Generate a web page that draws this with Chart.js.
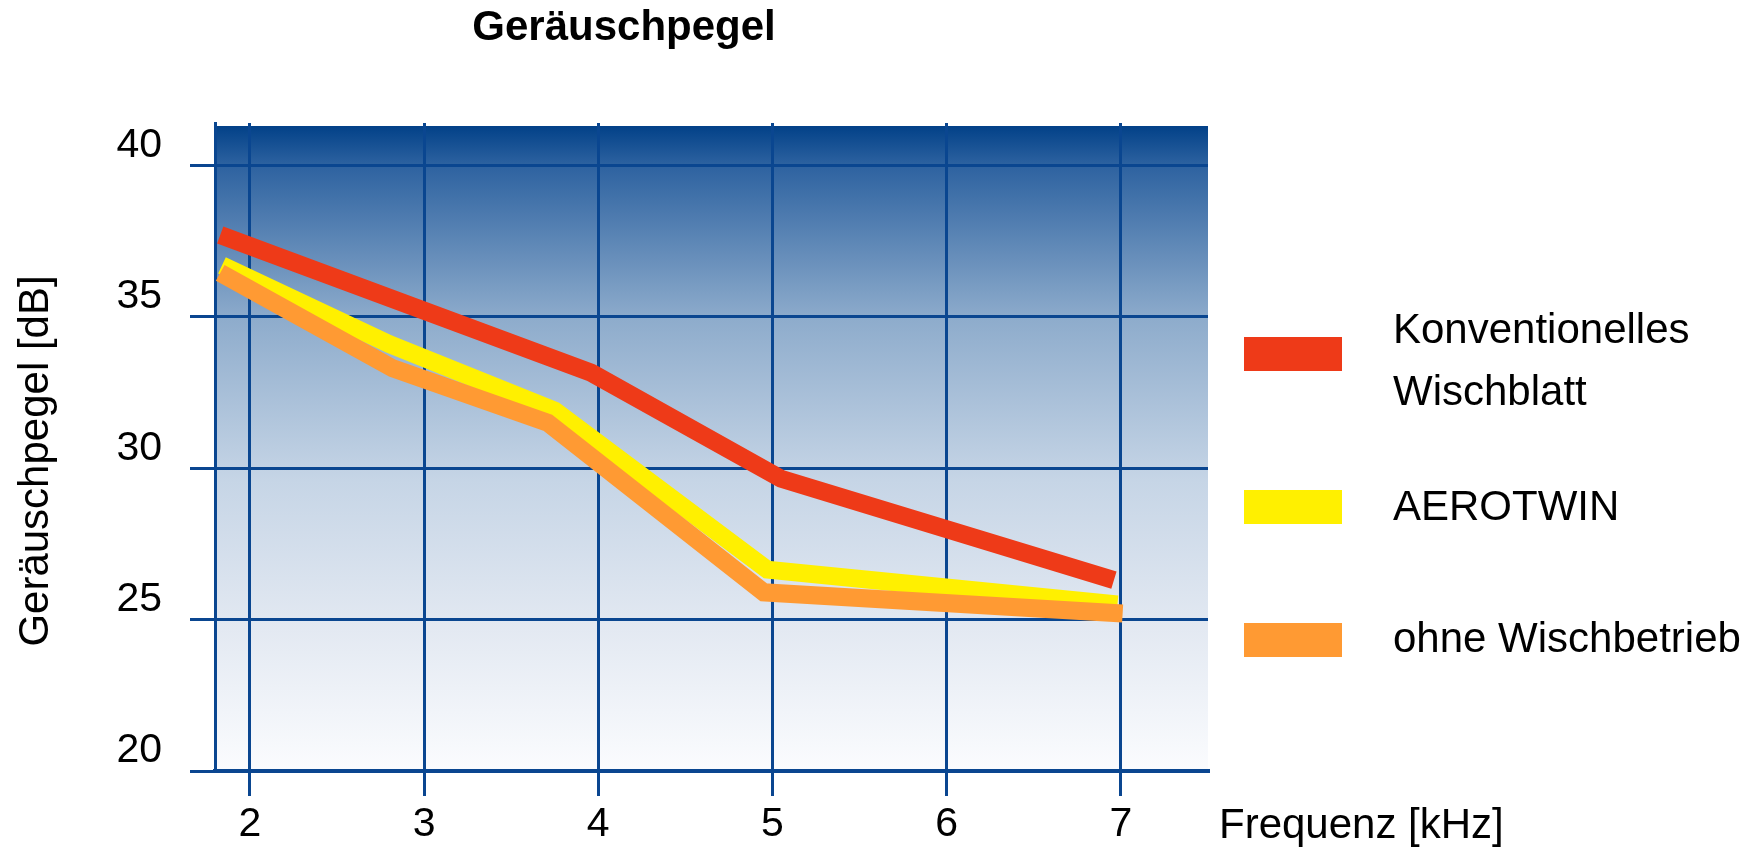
<!DOCTYPE html>
<html>
<head>
<meta charset="utf-8">
<title>Geräuschpegel</title>
<script src="https://cdn.jsdelivr.net/npm/chart.js@4.4.1/dist/chart.umd.min.js"></script>
<style>
    body { margin: 0; background: #ffffff; }
    #chartBox { width: 1758px; height: 850px; }
</style>
</head>
<body>
<div id="chartBox"><canvas id="noiseChart" width="1758" height="850"></canvas></div>
<script>
// Werte
const seriesNames = ['Konventionelles Wischblatt', 'AEROTWIN', 'ohne Wischbetrieb'];
const freqKonv = [1.83, 3.96, 5.05, 6.96];
const pegelKonv = [37.7, 33.15, 29.65, 26.3];
const freqAero = [1.84, 2.8, 3.75, 4.97, 6.98];
const pegelAero = [36.7, 34.1, 31.9, 26.65, 25.5];
const freqOhne = [1.83, 2.82, 3.71, 4.95, 7.01];
const pegelOhne = [36.45, 33.3, 31.5, 25.9, 25.2];
const xTicks = [2, 3, 4, 5, 6, 7];
const yTicks = [20, 25, 30, 35, 40];

const gridBlue = '#0a4690';
const FONT = '"Liberation Sans", Arial, sans-serif';

function toPoints(xs, ys) {
    return xs.map(function(x, i) { return { x: x, y: ys[i] }; });
}

// Hintergrund-Verlauf der Zeichenfläche
const plotBackground = {
    id: 'plotBackground',
    beforeDraw: function(chart) {
        const a = chart.chartArea;
        const c = chart.ctx;
        const top = a.top + 3;
        const g = c.createLinearGradient(0, top, 0, a.bottom);
        g.addColorStop(0, '#024188');
        g.addColorStop(0.06, '#2d62a0');
        g.addColorStop(0.3, '#8eaccc');
        g.addColorStop(0.55, '#c6d5e6');
        g.addColorStop(0.78, '#e3e9f2');
        g.addColorStop(1, '#fbfcfe');
        c.save();
        c.fillStyle = g;
        c.fillRect(a.left, top, a.right - a.left, a.bottom - top);
        c.restore();
    }
};

// Titel, Achsentitel und Legende
const extraText = {
    id: 'extraText',
    afterDraw: function(chart) {
        const c = chart.ctx;
        c.save();
        c.fillStyle = '#000000';
        c.font = 'bold 42px ' + FONT;
        c.textAlign = 'center';
        c.textBaseline = 'alphabetic';
        c.fillText('Geräuschpegel', 624, 40);

        c.font = '42px ' + FONT;
        c.textAlign = 'left';
        c.textBaseline = 'middle';
        c.fillText('Frequenz [kHz]', 1219, 826);

        c.save();
        c.translate(36, 461);
        c.rotate(-Math.PI / 2);
        c.textAlign = 'center';
        c.fillText('Geräuschpegel [dB]', 0, 0);
        c.restore();

        const sw = [337, 490, 623];
        const lines = [['Konventionelles', 'Wischblatt'], ['AEROTWIN'], ['ohne Wischbetrieb']];
        const base = [[343, 405], [520], [652]];
        c.textBaseline = 'alphabetic';
        chart.data.datasets.forEach(function(ds, i) {
            c.fillStyle = ds.borderColor;
            c.fillRect(1244, sw[i], 98, 34);
            c.fillStyle = '#000000';
            lines[i].forEach(function(t, k) {
                c.fillText(t, 1393, base[i][k]);
            });
        });
        c.restore();
    }
};

const ctx = document.getElementById('noiseChart').getContext('2d');
new Chart(ctx, {
    type: 'line',
    data: {
        datasets: [{
            label: seriesNames[0],
            data: toPoints(freqKonv, pegelKonv),
            borderColor: '#ee3a18',
            order: 0
        }, {
            label: seriesNames[1],
            data: toPoints(freqAero, pegelAero),
            borderColor: '#fff000',
            order: 2
        }, {
            label: seriesNames[2],
            data: toPoints(freqOhne, pegelOhne),
            borderColor: '#ff9a33',
            order: 1
        }]
    },
    options: {
        responsive: false,
        devicePixelRatio: 1,
        animation: false,
        layout: {
            padding: { left: 0, right: 550, top: 123, bottom: 0 }
        },
        elements: {
            line: {
                borderWidth: 18,
                tension: 0,
                borderCapStyle: 'butt',
                borderJoinStyle: 'miter',
                fill: false
            },
            point: { radius: 0, hoverRadius: 0 }
        },
        plugins: {
            legend: { display: false },
            title: { display: false },
            tooltip: { enabled: false }
        },
        scales: {
            x: {
                type: 'linear',
                min: 1.8,
                max: 7.5,
                afterFit: function(scale) { scale.height = 79; },
                afterBuildTicks: function(scale) {
                    scale.ticks = xTicks.map(function(v) { return { value: v }; });
                },
                grid: {
                    color: gridBlue,
                    lineWidth: 3,
                    tickLength: 25,
                    tickColor: gridBlue
                },
                border: { display: true, color: gridBlue, width: 4 },
                ticks: {
                    color: '#000000',
                    font: { family: FONT, size: 41 },
                    padding: 4,
                    maxRotation: 0,
                    autoSkip: false
                }
            },
            y: {
                type: 'linear',
                min: 20,
                max: 41.4,
                afterFit: function(scale) { scale.width = 215; },
                afterBuildTicks: function(scale) {
                    scale.ticks = yTicks.map(function(v) { return { value: v }; });
                },
                grid: {
                    color: gridBlue,
                    lineWidth: 3,
                    tickLength: 25,
                    tickColor: gridBlue
                },
                border: { display: true, color: gridBlue, width: 3 },
                ticks: {
                    color: '#000000',
                    font: { family: FONT, size: 41 },
                    padding: 28,
                    labelOffset: -20,
                    autoSkip: false
                }
            }
        }
    },
    plugins: [plotBackground, extraText]
});
</script>
</body>
</html>
